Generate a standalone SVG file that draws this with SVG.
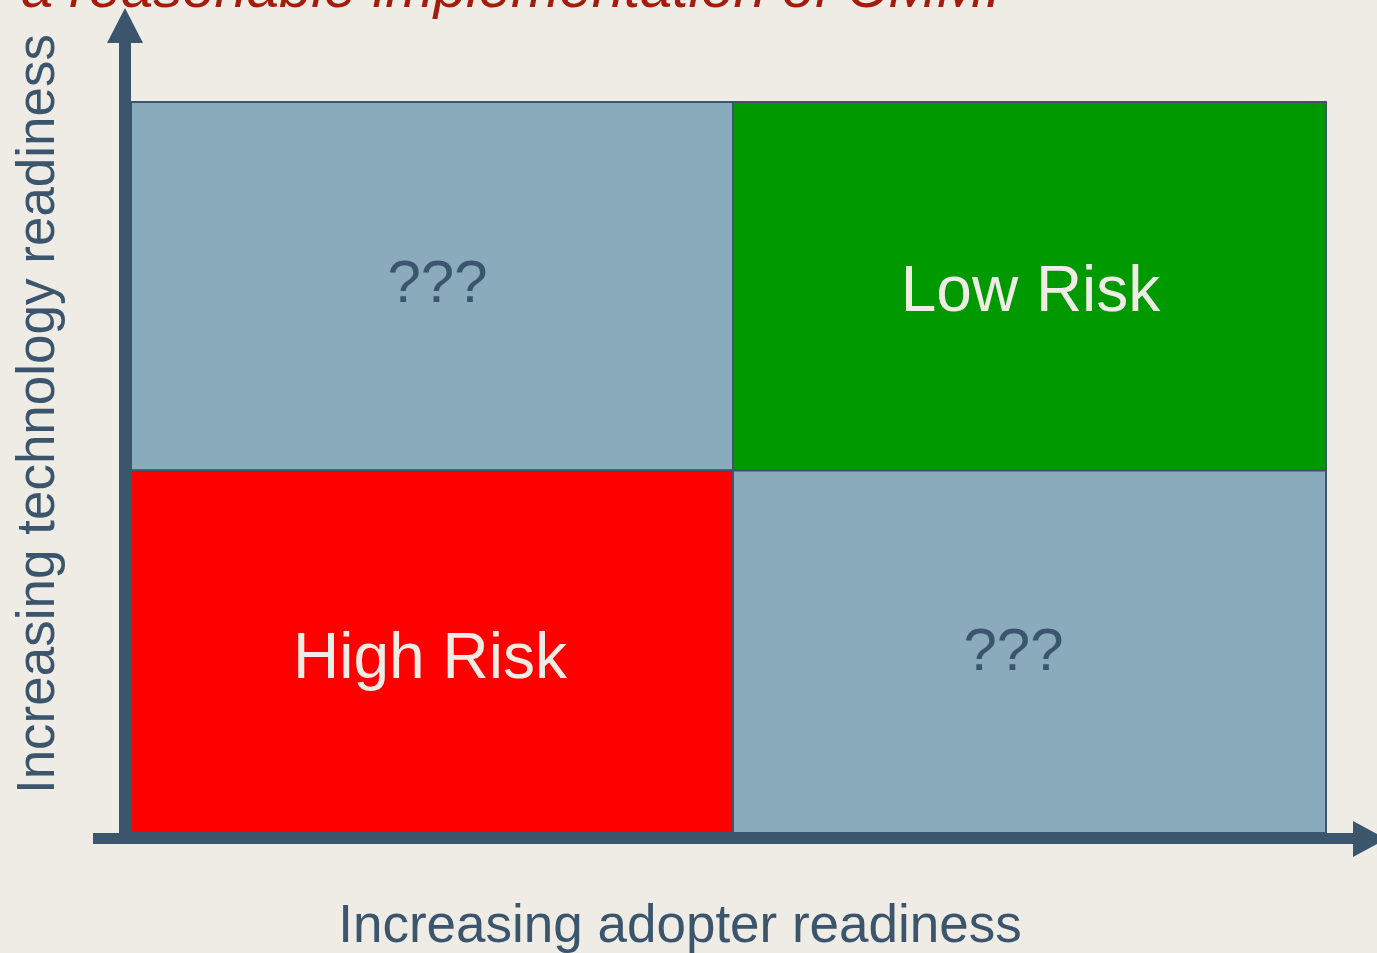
<svg xmlns="http://www.w3.org/2000/svg" width="1377" height="953" viewBox="0 0 1377 953">
<style>
.bg{fill:#efece6}
.cell{stroke:#3b556d;stroke-width:2}
.grey{fill:#89abbb}
.green{fill:#009900}
.red{fill:#ff0000}
.axis{fill:#3b556d}
text{font-family:"Liberation Sans",Arial,sans-serif}
.q{fill:#3b556d;font-size:60px;text-anchor:middle}
.lbl{fill:#efece6;font-size:64px;text-anchor:middle}
.ax{fill:#3b556d;font-size:53px;text-anchor:middle}
.title{fill:#a31c0c;font-size:58px;font-style:italic}
</style>
<rect class="bg" x="0" y="0" width="1377" height="953"/>
<text class="title" x="21" y="7">a reasonable implementation of CMMI</text>
<g id="cell-top-left">
<rect class="cell grey" x="131" y="102" width="602" height="368.5"/>
<text class="q" x="437.5" y="302">???</text>
</g>
<g id="cell-top-right">
<rect class="cell green" x="733" y="102" width="593" height="368.5"/>
<text class="lbl" x="1030.5" y="311">Low Risk</text>
</g>
<g id="cell-bottom-left">
<rect class="cell red" x="131" y="470.5" width="602" height="362.5"/>
<text class="lbl" x="430" y="678">High Risk</text>
</g>
<g id="cell-bottom-right">
<rect class="cell grey" x="733" y="470.5" width="593" height="362.5"/>
<text class="q" x="1013.5" y="670">???</text>
</g>
<g id="connectors">
<rect class="axis" x="119" y="42" width="12" height="802"/>
<polygon class="axis" points="107,43 143,43 125,8"/>
<rect class="axis" x="93" y="833" width="1261" height="11"/>
<polygon class="axis" points="1353,821 1353,857 1386,839"/>
</g>
<text class="ax" x="680" y="942">Increasing adopter readiness</text>
<text class="ax" transform="translate(54,414) rotate(-90)">Increasing technology readiness</text>
</svg>
